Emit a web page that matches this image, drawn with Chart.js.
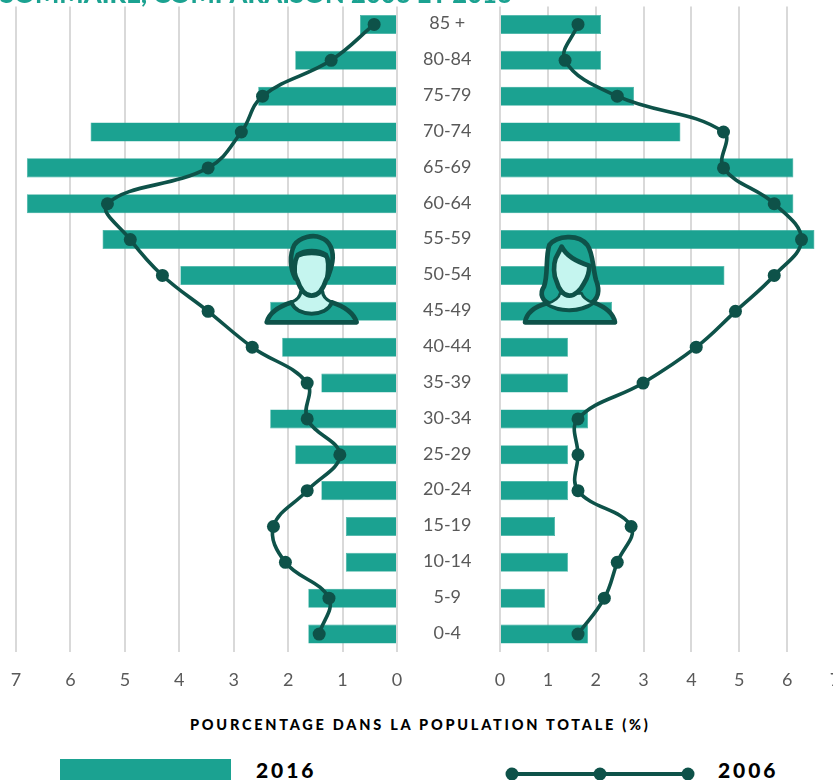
<!DOCTYPE html>
<html lang="fr"><head><meta charset="utf-8">
<style>
html,body{margin:0;padding:0;background:#fff;overflow:hidden;width:833px;height:780px}
#stage{position:relative;width:833px;height:780px;overflow:hidden;font-family:Lato,sans-serif}
canvas{position:absolute;top:0}
.t{position:absolute;white-space:nowrap;line-height:1}
svg{position:absolute}
</style>
<script src="https://cdn.jsdelivr.net/npm/chart.js@4"></script>
</head><body>
<div id="stage">
<canvas id="left" width="500" height="700" style="left:0;width:500px;height:700px"></canvas>
<canvas id="right" width="365" height="700" style="left:480px;width:365px;height:700px"></canvas>
<div class="t" id="title" style="left:0;top:-19px;color:#1ba291;font-weight:900;font-size:25.5px;letter-spacing:.1px">SOMMAIRE, COMPARAISON 2006 ET 2016</div>
<div class="t" id="axisTitle" style="left:190px;top:718px;color:#000;font-weight:900;font-size:14.5px;letter-spacing:2.75px">POURCENTAGE DANS LA POPULATION TOTALE (%)</div>
<div style="position:absolute;left:60px;top:759px;width:171px;height:21px;background:#1ba291"></div>
<div class="t" style="left:256px;top:759px;color:#000;font-weight:900;font-size:21px;letter-spacing:2.9px">2016</div>
<svg style="left:500px;top:765px" width="200" height="15"><line x1="12" y1="9" x2="188" y2="9" stroke="#0e5249" stroke-width="4"/><circle cx="12" cy="9" r="6.5" fill="#0e5249"/><circle cx="100" cy="9" r="6.5" fill="#0e5249"/><circle cx="188" cy="9" r="6.5" fill="#0e5249"/></svg>
<div class="t" style="left:718px;top:759px;color:#000;font-weight:900;font-size:21px;letter-spacing:2.9px">2006</div>

<svg style="left:250px;top:225px" width="120" height="110" viewBox="0 0 360 330">
 <g stroke="#0e5249" stroke-width="14" stroke-linejoin="round" stroke-linecap="round">
  <path d="M50,292 C58,262 85,245 125,232 C135,255 160,265 185,265 C210,265 235,255 245,232 C285,245 310,262 320,292 Z" fill="#1ba291"/>
  <path d="M125,232 C145,222 152,212 152,200 L218,200 C218,212 225,222 245,232 C235,255 210,265 185,265 C160,265 135,255 125,232 Z" fill="#c5f5ef" stroke-width="10"/>
  <path d="M136,95 C165,80 205,80 234,95 C240,125 238,150 228,165 C220,190 205,212 185,212 C165,212 150,190 142,165 C132,150 130,125 136,95 Z" fill="#c5f5ef"/>
  <path d="M136,160 C120,130 118,90 133,60 C150,35 190,28 212,38 C240,45 252,80 247,110 C244,130 238,145 232,160 C236,130 238,105 228,90 C205,74 165,74 143,90 C133,110 132,135 136,160 Z" fill="#1ba291"/>
 </g>
</svg>
<svg style="left:510px;top:225px" width="120" height="110" viewBox="0 0 360 330">
 <g stroke="#0e5249" stroke-width="14" stroke-linejoin="round" stroke-linecap="round">
  <path d="M118,60 C140,32 205,25 232,60 C250,85 248,130 258,165 C270,195 268,225 235,238 L125,238 C95,230 88,205 102,185 C115,150 106,95 118,60 Z" fill="#1ba291"/>
  <path d="M45,292 C50,262 75,245 110,235 C150,262 210,262 250,232 C285,245 310,262 315,292 Z" fill="#1ba291"/>
  <path d="M110,237 C135,228 148,218 150,205 L215,205 C218,218 230,226 250,234 C205,260 150,260 110,237 Z" fill="#c5f5ef" stroke-width="8"/>
  <path d="M155,65 C170,95 205,112 238,122 C238,150 228,165 222,175 C212,195 195,212 178,212 C160,212 145,190 140,170 C130,150 130,120 137,100 Z" fill="#c5f5ef"/>
 </g>
</svg>
</div>
<script>
const categories = ["85 +","80-84","75-79","70-74","65-69","60-64","55-59","50-54","45-49","40-44","35-39","30-34","25-29","20-24","15-19","10-14","5-9","0-4"];
const hommes2016 = [0.68,1.87,2.55,5.63,6.8,6.8,5.41,3.98,2.33,2.11,1.39,2.33,1.87,1.39,0.94,0.94,1.63,1.63];
const hommes2006 = [0.42,1.21,2.47,2.86,3.47,5.32,4.9,4.31,3.47,2.66,1.65,1.65,1.05,1.65,2.27,2.05,1.25,1.43];
const femmes2016 = [2.11,2.11,2.8,3.77,6.13,6.13,6.57,4.69,2.34,1.42,1.42,1.84,1.42,1.42,1.15,1.42,0.94,1.84];
const femmes2006 = [1.63,1.36,2.45,4.67,4.67,5.73,6.3,5.73,4.92,4.1,2.99,1.63,1.63,1.63,2.74,2.45,2.18,1.63];
const TEAL="#1ba291", DARK="#0e5249", GRID="#d9d9d9", TXT="#595959";
const FONT={family:"Lato, sans-serif",size:18};

function sets(bar,line){return [
 {type:"line",label:"2006",data:line,borderColor:DARK,backgroundColor:DARK,borderWidth:3.6,pointRadius:6.5,pointBackgroundColor:DARK,pointBorderWidth:0,tension:0.4,order:1,clip:false},
 {type:"bar",label:"2016",data:bar,backgroundColor:TEAL,borderColor:"#35ad9e",borderWidth:0.6,categoryPercentage:1,barPercentage:0.53,order:2}
];}
function xAxis(rev){return {type:"linear",min:0,max:7,reverse:rev,
 ticks:{stepSize:1,color:TXT,font:FONT,padding:17,maxRotation:0},
 grid:{color:GRID,lineWidth:2,drawTicks:false},border:{display:false},
 afterFit(a){a.height=48;a.paddingLeft=0;a.paddingRight=0;}};}
const common={responsive:false,animation:false,indexAxis:"y",
 plugins:{legend:{display:false},tooltip:{enabled:false}}};

new Chart(document.getElementById("left"),{type:"bar",
 data:{labels:categories,datasets:sets(hommes2016,hommes2006)},
 options:{...common,layout:{padding:{left:16,top:6.5,right:0,bottom:0}},
  scales:{x:xAxis(true),
   y:{position:"right",grid:{display:false},border:{display:false},
      ticks:{color:TXT,font:FONT,crossAlign:"center",padding:18,labelOffset:-1,autoSkip:false},
      afterFit(a){a.width=103;a.paddingTop=0;a.paddingBottom=0;}}}}});

new Chart(document.getElementById("right"),{type:"bar",
 data:{labels:categories,datasets:sets(femmes2016,femmes2006)},
 options:{...common,layout:{padding:{left:20,top:6.5,right:10,bottom:0}},
  scales:{x:xAxis(false),y:{display:false}}}});
</script>
</body></html>
